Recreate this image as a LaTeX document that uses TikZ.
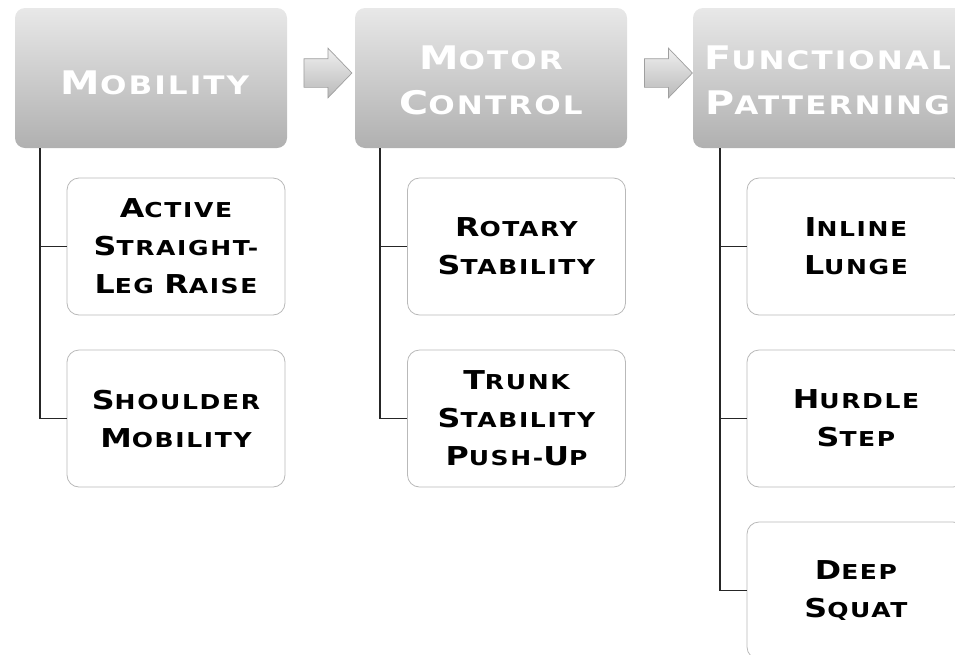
\documentclass[tikz,border=0pt]{standalone}
\usepackage{fontspec}
\usetikzlibrary{shapes.arrows}
\newfontfamily\cpfont{DejaVu Sans}[FakeStretch=1.22,LetterSpace=8]
\newcommand\BL[1]{{\fontsize{26}{38}\selectfont #1}}
\newcommand\HB[1]{{\fontsize{32.5}{45}\selectfont #1}}
\begin{document}
\begin{tikzpicture}[x=1pt,y=-1pt,
  headerbox/.style={rounded corners=10pt, top color=gray!18, bottom color=gray!62, draw=none,
    minimum width=272pt, minimum height=140pt, inner sep=0pt},
  headertext/.style={text=white, align=center, inner sep=0pt,
    font=\cpfont\bfseries\fontsize{25.5}{45}\selectfont},
  childbox/.style={rounded corners=12pt, draw=gray!55, line width=0.8pt, fill=white,
    minimum width=218pt, minimum height=137pt, align=center, inner sep=0pt,
    font=\cpfont\bfseries\fontsize{20.5}{38}\selectfont},
  conn/.style={draw=black!85, line width=1.3pt},
  flowarrow/.style={single arrow, single arrow head extend=10.5pt, single arrow tip angle=92,
    minimum height=48pt, inner xsep=0pt, inner ysep=14pt, top color=gray!12, bottom color=gray!55,
    draw=gray!75, line width=0.7pt}]
\useasboundingbox (0,0) rectangle (955,654);
\clip (0,0) rectangle (955,654);
% headers
\node[headerbox] (h1) at (151,78) {};
\node[headerbox] (h2) at (491,78) {};
\node[headerbox] (h3) at (829,78) {};
\node[headertext] (h1t) at (155,83) {\HB{M}OBILITY};
\node[headertext] (h2t) at (491,80) {\HB{M}OTOR\\\HB{C}ONTROL};
\node[headertext, anchor=west] (h3t) at (704,80) {\HB{F}UNCTIONAL\\\HB{P}ATTERNING};
% arrows
\node[flowarrow] (ar1) at (321,73) {};
\node[flowarrow] (ar2) at (661.5,73) {};
% children
\node[childbox] (a1) at (176,246.5) {\BL{A}CTIVE\\\BL{S}TRAIGHT-\\\BL{L}EG \BL{R}AISE};
\node[childbox] (a2) at (176,418.5) {\BL{S}HOULDER\\\BL{M}OBILITY};
\node[childbox] (b1) at (516.5,246.5) {\BL{R}OTARY\\\BL{S}TABILITY};
\node[childbox] (b2) at (516.5,418.5) {\BL{T}RUNK\\\BL{S}TABILITY\\\BL{P}USH-\BL{U}P};
\node[childbox] (c1) at (856,246.5) {\BL{I}NLINE\\\BL{L}UNGE};
\node[childbox] (c2) at (856,418.5) {\BL{H}URDLE\\\BL{S}TEP};
\node[childbox] (c3) at (856,590.5) {\BL{D}EEP\\\BL{S}QUAT};
% connectors
\coordinate (t1) at (40,148);
\coordinate (t2) at (380,148);
\coordinate (t3) at (720,148);
\draw[conn] (t1) |- (a1.west);
\draw[conn] (t1) |- (a2.west);
\draw[conn] (t2) |- (b1.west);
\draw[conn] (t2) |- (b2.west);
\draw[conn] (t3) |- (c1.west);
\draw[conn] (t3) |- (c2.west);
\draw[conn] (t3) |- (c3.west);
\end{tikzpicture}
\end{document}
